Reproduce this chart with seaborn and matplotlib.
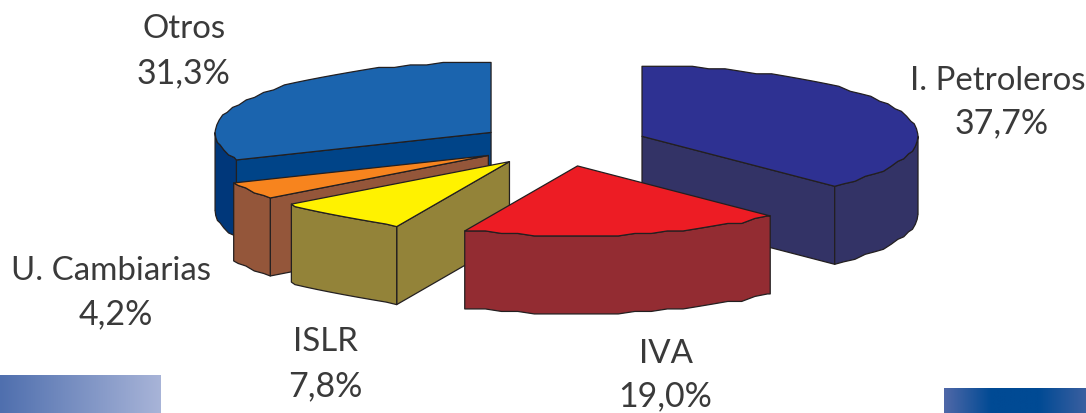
import numpy as np
import matplotlib
matplotlib.use('Agg')
import matplotlib.pyplot as plt
from matplotlib.colors import LinearSegmentedColormap
import seaborn as sns

# data
categories = ['I. Petroleros', 'IVA', 'ISLR', 'U. Cambiarias', 'Otros']
shares = [37.7, 19.0, 7.8, 4.2, 31.3]

# colours, same order as categories
top_colors = ['#2E3192', '#ED1C24', '#FFF200', '#F7841E', '#1B64AE']
wall_colors = ['#333366', '#932C32', '#938339', '#94563A', '#00377A']
edge_colors = ['#333366', '#932C32', '#938339', '#94563A', '#004488']

# label centres in pixels (name line, value line)
label_pos = [((998, 81), (1002, 123)), ((666, 354), (665, 396)), ((325, 342), (325, 386)),
             ((111, 271), (116, 314)), ((184, 29), (184, 73))]

# pie geometry in pixels
cx, cy = 562.5, 144.5
rx, ry = 276, 70
depth = 78
explode = 0.311
line = '#231F20'

sns.set_theme(style='white')
plt.rcParams['font.family'] = ['Lato', 'DejaVu Sans']

fig = plt.figure(figsize=(10.86, 4.13), dpi=100)
ax = fig.add_axes([0, 0, 1, 1])


def rim(apex, a, b):
    # outer arc of a slice, y snapped so the edge has the little steps of the original
    # same angle grid for every arc so top and wall always meet
    grid = np.arange(0, 360.1, 3.5)
    t = np.radians(np.r_[a, grid[(grid > a) & (grid < b)], b])
    x = apex[0] + rx * np.sin(t)
    y = apex[1] + np.round(-ry * np.cos(t) / 2.5) * 2.5
    return x, y


def face(x, y, color):
    ax.fill(x, y, facecolor=color, edgecolor=line, linewidth=0.9, joinstyle='round')


# slices from the shares, clockwise from 12 o'clock
ends = np.cumsum(shares) * 3.6
starts = ends - np.array(shares) * 3.6
mids = (starts + ends) / 2

# back slices first
for i in np.argsort(-np.cos(np.radians(mids))):
    a, b, m = starts[i], ends[i], np.radians(mids[i])
    apex = (cx + explode * rx * np.sin(m), cy - explode * ry * np.cos(m))

    # flat cut walls that face the viewer
    for ang, visible in [(a, np.sin(np.radians(a)) < -1e-6), (b, np.sin(np.radians(b)) > 1e-6)]:
        if visible:
            ex, ey = rim(apex, ang, ang)
            ex, ey = ex[0], ey[0]
            face([apex[0], ex, ex, apex[0]], [apex[1], ey, ey + depth, apex[1] + depth], edge_colors[i])

    # curved wall, only the front half of the pie shows
    lo, hi = max(a, 90), min(b, 270)
    if lo < hi:
        ax_x, ax_y = rim(apex, lo, hi)
        face(np.r_[ax_x, ax_x[::-1]], np.r_[ax_y, ax_y[::-1] + depth], wall_colors[i])

    # top
    tx, ty = rim(apex, a, b)
    face(np.r_[apex[0], tx], np.r_[apex[1], ty], top_colors[i])

# labels
for name, share, (p1, p2) in zip(categories, shares, label_pos):
    ax.text(p1[0], p1[1], name, ha='center', va='center', fontsize=23.8, color='#3A3A3A')
    value = f'{share:.1f}%'.replace('.', ',')
    ax.text(p2[0], p2[1], value, ha='center', va='center', fontsize=24.5, color='#3A3A3A')

# gradient bands at the bottom corners
left_band = LinearSegmentedColormap.from_list('lb', ['#4F6FAE', '#A8B4D8'])
right_band = LinearSegmentedColormap.from_list('rb', ['#5068A8', '#004A94', '#004A94', '#3A5FA0'])
ramp = np.linspace(0, 1, 256)[None, :]
ax.imshow(ramp, cmap=left_band, extent=[0, 161, 413, 375], aspect='auto')
ax.imshow(ramp, cmap=right_band, extent=[944, 1086, 413, 388], aspect='auto')

ax.set_xlim(0, 1086)
ax.set_ylim(413, 0)
ax.axis('off')
fig.savefig('out.png', dpi=100, facecolor='white')
